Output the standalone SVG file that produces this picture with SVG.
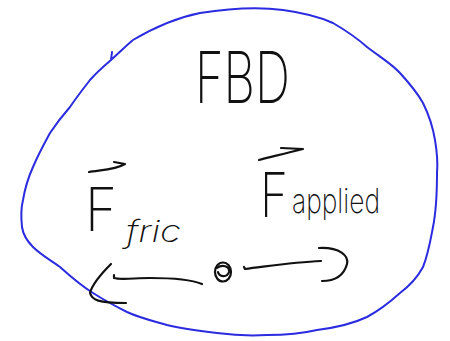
<svg xmlns="http://www.w3.org/2000/svg" width="450" height="341" viewBox="0 0 450 341">
<style>
.ink{fill:none;stroke:#111;stroke-width:2.2;stroke-linecap:round;stroke-linejoin:round}
.bound{fill:none;stroke:#2b2be0;stroke-width:2;stroke-linecap:round;stroke-linejoin:round}
.hand{font-family:Inter,"Noto Sans","DejaVu Sans",sans-serif;font-weight:200;fill:#111}
</style>
<rect width="450" height="341" fill="#fff"/>
<g id="boundary">
<path class="bound" d="M112,52 L111,60 C120,52 128,44 133,40 C150,30 175,18 200,13 C225,9 255,6 283,10 C305,13 320,17 333,23 C345,30 357,38 367,47 C380,57 392,64 400,73 C410,84 418,94 423,103 C430,117 433,128 435,140 C437,152 438,162 437,173 C437,192 436,212 433,227 C430,243 428,255 423,267 C416,280 408,287 400,293 C390,302 380,310 367,317 C350,325 333,328 317,330 C300,334 285,335 267,335 C250,336 232,335 217,333 C200,331 183,329 167,325 C153,321 140,318 127,312 C115,306 104,300 93,293 C80,285 70,276 60,267 C50,260 40,254 33,247 C26,240 23,234 22,227 C21,218 21,208 23,200 C25,188 28,178 33,167 C38,155 44,144 50,133 C56,124 63,115 70,107 C76,98 83,89 90,80 C97,72 104,66 111,60"/>
</g>
<g id="title">
<text class="hand" x="195" y="103" font-size="72" textLength="95" lengthAdjust="spacingAndGlyphs">FBD</text>
</g>
<g id="label-fric">
<path class="ink" d="M89,172 C100,170 115,170 125,164 L114,162"/>
<text class="hand" x="85" y="231" font-size="60" textLength="32" lengthAdjust="spacingAndGlyphs">F</text>
<text class="hand" x="126" y="242" font-size="30" font-style="italic" textLength="55" lengthAdjust="spacingAndGlyphs">fric</text>
</g>
<g id="label-applied">
<path class="ink" d="M259,160 C275,156 290,152 303,149 L281,148"/>
<text class="hand" x="260" y="217" font-size="62" textLength="28" lengthAdjust="spacingAndGlyphs">F</text>
<text class="hand" x="292" y="213" font-size="34" textLength="88" lengthAdjust="spacingAndGlyphs">applied</text>
</g>
<g id="point">
<ellipse class="ink" cx="223" cy="272" rx="8" ry="9.5" stroke-width="2.6"/>
<path class="ink" d="M217,268 C222,264 230,266 229,272 C227,278 219,277 218,272"/>
</g>
<g id="connectors">
<path class="ink" d="M202,284 C190,279 170,278 150,278 C135,278 120,280 114,278 L114,275"/>
<path class="ink" d="M111,264 C100,275 92,285 90,293 C92,300 98,303 126,303"/>
<path class="ink" d="M244,267 L245,269 C270,266 295,262 321,261"/>
<path class="ink" d="M319,248 C340,247 349,256 347,264 C344,275 335,281 322,281"/>
</g>
</svg>
